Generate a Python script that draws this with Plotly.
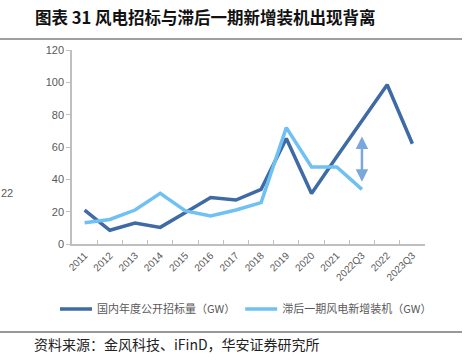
import plotly.graph_objects as go

categories = ["2011", "2012", "2013", "2014", "2015", "2016", "2017", "2018",
              "2019", "2020", "2021", "2022Q3", "2022", "2023Q3"]
tender = [21, 8.5, 13, 10.3, 19.5, 28.8, 27.2, 33.8, 65.3, 31.3, 54, 76.5, 98.5, 62]
install_cats = ["2011", "2012", "2013", "2014", "2015", "2016", "2017", "2018",
                "2019", "2020", "2021", "2022Q3"]
install = [13.2, 15.2, 21, 31.3, 20.5, 17.3, 21, 25.6, 72, 47.6, 47.6, 33.8]
arrow_top, arrow_bottom = 67.5, 38.5

W, H = 464, 361
L, R, T, B = 72, 425, 50, 244

def px(x):
    return (x - L) / (R - L)

def py(y):
    return (B - y) / (B - T)

FONT = "Liberation Sans, Arial, Noto Sans CJK SC"
CJK = "Noto Sans CJK SC, Liberation Sans"

fig = go.Figure()
fig.add_trace(go.Scatter(x=categories, y=tender, mode="lines",
                         name="国内年度公开招标量（GW）",
                         line=dict(color="#3e6aa6", width=3.5)))
fig.add_trace(go.Scatter(x=install_cats, y=install, mode="lines",
                         name="滞后一期风电新增装机（GW）",
                         line=dict(color="#6ec1f2", width=3.5)))

fig.add_annotation(x="2022Q3", y=arrow_bottom, ax="2022Q3", ay=arrow_top,
                   xref="x", yref="y", axref="x", ayref="y", text="",
                   showarrow=True, arrowhead=2, startarrowhead=2,
                   arrowside="end+start", arrowwidth=2.5, arrowsize=1,
                   startarrowsize=1, arrowcolor="#7ba7dd")

# title
fig.add_annotation(x=px(33), y=py(17), xref="paper", yref="paper", xanchor="left",
                   yanchor="middle", showarrow=False,
                   text="<b>图表 31 风电招标与滞后一期新增装机出现背离</b>",
                   font=dict(family=CJK, size=16.5, color="#111111"))
# source
fig.add_annotation(x=px(32), y=py(344), xref="paper", yref="paper", xanchor="left",
                   yanchor="middle", showarrow=False,
                   text="资料来源：金风科技、iFinD，华安证券研究所",
                   font=dict(family=CJK, size=14, color="#222222"))
# cropped neighbour label
fig.add_annotation(x=px(-1), y=py(193), xref="paper", yref="paper", xanchor="left",
                   yanchor="middle", showarrow=False, text="22",
                   font=dict(family=FONT, size=11, color="#595959"))

fig.add_shape(type="line", xref="paper", yref="paper", x0=px(0), x1=px(462),
              y0=py(39), y1=py(39), line=dict(color="#7f7f7f", width=1.5))
fig.add_shape(type="line", xref="paper", yref="paper", x0=px(0), x1=px(462),
              y0=py(332), y1=py(332), line=dict(color="#333333", width=1))

fig.update_layout(
    width=W, height=H,
    margin=dict(l=L, r=W - R, t=T, b=H - B),
    paper_bgcolor="white", plot_bgcolor="white",
    font=dict(family=FONT, color="#595959", size=11),
    showlegend=True,
    legend=dict(orientation="h", x=px(55), y=py(309), xanchor="left",
                yanchor="middle", font=dict(family=CJK, size=11, color="#595959"),
                itemwidth=32, bgcolor="rgba(0,0,0,0)"),
    xaxis=dict(type="category", categoryorder="array", categoryarray=categories,
               range=[-0.5, 13.5], showline=True, linecolor="#bfbfbf", linewidth=1.5,
               ticks="inside", tickson="boundaries", ticklen=4, tickcolor="#bfbfbf",
               tickangle=-45, showgrid=False, zeroline=False,
               tickfont=dict(size=10, color="#595959")),
    yaxis=dict(range=[0, 120], dtick=20, showline=True, linecolor="#bfbfbf",
               linewidth=1.5, ticks="outside", ticklen=4, tickcolor="#bfbfbf",
               showgrid=False, zeroline=False,
               tickfont=dict(size=11, color="#595959")),
)

fig.write_html("out.html", config={"displayModeBar": False},
               post_script="document.body.style.margin='0';")
